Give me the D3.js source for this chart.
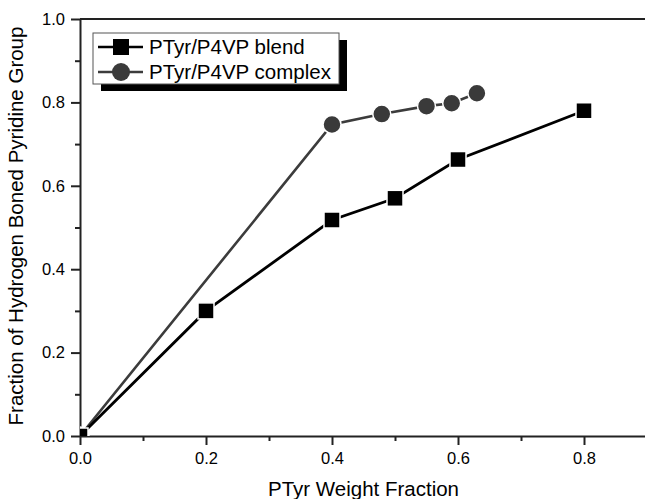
<!DOCTYPE html>
<meta charset="utf-8">
<style>
body { margin: 0; background: #fff; }
text { font-family: "Liberation Sans", Arial, sans-serif; fill: #000; }
.axis path, .axis line { stroke: #222; stroke-width: 2px; }
</style>
<body>
<script src="https://cdn.jsdelivr.net/npm/d3@7"></script>
<script>

var blendX = [0, 0.2, 0.4, 0.5, 0.6, 0.8],
    blendY = [0, 0.30, 0.518, 0.570, 0.663, 0.780];

var complexX = [0, 0.4, 0.479, 0.55, 0.59, 0.63],
    complexY = [0, 0.747, 0.772, 0.791, 0.798, 0.822];

var seriesNames = ["PTyr/P4VP blend", "PTyr/P4VP complex"];
var majorTicks = [0, 0.2, 0.4, 0.6, 0.8, 1.0],
    minorTicks = [0.1, 0.3, 0.5, 0.7, 0.9];

var w = 645,
    h = 499,
    pLeft = 80, pRight = 647, pTop = 19, pBottom = 436;

var x = d3.scaleLinear().domain([0, 0.9]).range([pLeft, pRight]),
    y = d3.scaleLinear().domain([0, 1]).range([pBottom, pTop]);

var svg = d3.select("body").append("svg")
    .attr("width", w)
    .attr("height", h);

svg.append("clipPath")
    .attr("id", "plot")
  .append("rect")
    .attr("x", pLeft)
    .attr("y", pTop)
    .attr("width", pRight - pLeft)
    .attr("height", pBottom - pTop);

// frame top line
svg.append("line")
    .attr("x1", pLeft).attr("x2", pRight)
    .attr("y1", pTop).attr("y2", pTop)
    .attr("stroke", "#222").attr("stroke-width", 2);

var fmt = d3.format(".1f");

// minor ticks
svg.append("g").attr("class", "axis")
    .attr("transform", "translate(0," + pBottom + ")")
    .call(d3.axisBottom(x).tickValues(minorTicks.filter(function(d) { return d < 0.9; })).tickSize(5).tickFormat(""))
    .call(function(g) { g.select(".domain").remove(); });

svg.append("g").attr("class", "axis")
    .attr("transform", "translate(" + pLeft + ",0)")
    .call(d3.axisLeft(y).tickValues(minorTicks).tickSize(5).tickFormat(""))
    .call(function(g) { g.select(".domain").remove(); });

var xAxis = svg.append("g").attr("class", "axis")
    .attr("transform", "translate(0," + pBottom + ")")
    .call(d3.axisBottom(x).tickValues(majorTicks.filter(function(d) { return d < 0.9; }))
      .tickSize(9).tickSizeOuter(0).tickPadding(7).tickFormat(fmt));
xAxis.selectAll("text").attr("font-size", "16.5px").attr("fill", "#000");

var yAxis = svg.append("g").attr("class", "axis")
    .attr("transform", "translate(" + pLeft + ",0)")
    .call(d3.axisLeft(y).tickValues(majorTicks)
      .tickSize(9).tickSizeOuter(0).tickPadding(6).tickFormat(fmt));
yAxis.selectAll("text").attr("font-size", "16.5px").attr("fill", "#000");

svg.append("text")
    .attr("x", (pLeft + pRight) / 2)
    .attr("y", 496)
    .attr("text-anchor", "middle")
    .attr("font-size", "20.5px")
    .text("PTyr Weight Fraction");

svg.append("text")
    .attr("transform", "translate(23,226)rotate(-90)")
    .attr("text-anchor", "middle")
    .attr("font-size", "20.5px")
    .text("Fraction of Hydrogen Boned Pyridine Group");

var plot = svg.append("g").attr("clip-path", "url(#plot)");

var line = d3.line()
    .x(function(d) { return x(d[0]); })
    .y(function(d) { return y(d[1]); });

var complex = d3.zip(complexX, complexY),
    blend = d3.zip(blendX, blendY);

plot.append("path")
    .datum(complex)
    .attr("d", line)
    .attr("fill", "none")
    .attr("stroke", "#3c3c3c")
    .attr("stroke-width", 2.6);

plot.append("path")
    .datum(blend)
    .attr("d", line)
    .attr("fill", "none")
    .attr("stroke", "#000")
    .attr("stroke-width", 2.8);

plot.selectAll(".circ")
    .data(complex)
  .enter().append("circle")
    .attr("class", "circ")
    .attr("cx", function(d) { return x(d[0]); })
    .attr("cy", function(d) { return y(d[1]); })
    .attr("r", 9)
    .attr("fill", "#3a3a3a")
    .attr("stroke", "#fff")
    .attr("stroke-width", 1.5);

plot.selectAll(".sq")
    .data(blend)
  .enter().append("rect")
    .attr("class", "sq")
    .attr("x", function(d) { return x(d[0]) - 8; })
    .attr("y", function(d) { return y(d[1]) - 8; })
    .attr("width", 16)
    .attr("height", 16)
    .attr("fill", "#000")
    .attr("stroke", "#fff")
    .attr("stroke-width", 1.5);

// legend
var lg = svg.append("g").attr("transform", "translate(93,33)");

lg.append("rect")
    .attr("x", 8).attr("y", 7)
    .attr("width", 246).attr("height", 51)
    .attr("fill", "#000");

lg.append("rect")
    .attr("x", 0).attr("y", 0)
    .attr("width", 246).attr("height", 51)
    .attr("fill", "#fff")
    .attr("stroke", "#555")
    .attr("stroke-width", 1);

var rows = lg.selectAll(".row")
    .data(seriesNames)
  .enter().append("g")
    .attr("class", "row")
    .attr("transform", function(d, i) { return "translate(0," + (14 + i * 25) + ")"; });

rows.append("line")
    .attr("x1", 5).attr("x2", 50)
    .attr("stroke", function(d, i) { return i ? "#3c3c3c" : "#000"; })
    .attr("stroke-width", 2.6);

rows.filter(function(d, i) { return i === 0; }).append("rect")
    .attr("x", 20).attr("y", -8)
    .attr("width", 16).attr("height", 16)
    .attr("fill", "#000");

rows.filter(function(d, i) { return i === 1; }).append("circle")
    .attr("cx", 28).attr("r", 9)
    .attr("fill", "#3a3a3a");

rows.append("text")
    .attr("x", 56)
    .attr("y", 7)
    .attr("font-size", "20.5px")
    .text(function(d) { return d; });

</script>
</body>
